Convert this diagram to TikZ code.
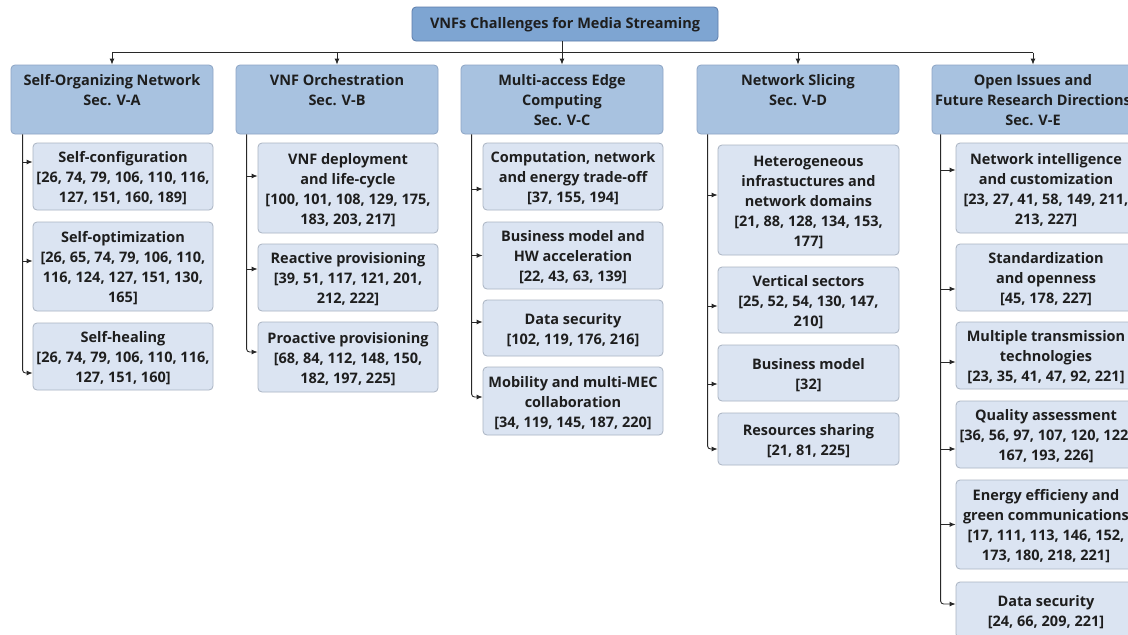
\documentclass[tikz,border=0pt]{standalone}
\usepackage{fontspec}
\setmainfont{Open Sans}
\usetikzlibrary{arrows.meta,calc}
\definecolor{topfill}{RGB}{126,165,210}
\definecolor{topline}{RGB}{92,124,170}
\definecolor{headfill}{RGB}{168,194,224}
\definecolor{headline}{RGB}{140,164,196}
\definecolor{subfill}{RGB}{219,228,242}
\definecolor{subline}{RGB}{170,180,194}
\definecolor{txt}{RGB}{30,30,30}
\definecolor{conncol}{RGB}{40,40,40}
\newcommand\myfirst{\rule{0pt}{18pt}}
\begin{document}
\begin{tikzpicture}[x=1pt,y=-1pt,
  every node/.style={font=\fontsize{14.5}{20}\selectfont\bfseries, text=txt, align=center, inner sep=0pt,
    execute at end node=\strut},
  topbox/.style={fill=topfill, draw=topline, line width=0.8pt, rounded corners=4pt, minimum width=306pt, minimum height=34pt,
    execute at begin node=\strut},
  headbox/.style={fill=headfill, draw=headline, line width=0.8pt, rounded corners=4pt, minimum width=202pt, minimum height=69pt},
  subbox/.style={fill=subfill, draw=subline, line width=0.8pt, rounded corners=4pt, minimum width=180pt},
  conn/.style={draw=conncol, line width=0.9pt},
  arr/.style={conn, -{Latex[length=6pt,width=5pt]}}
]
\useasboundingbox (0,0) rectangle (1128,635);
\clip (0,0) rectangle (1128,635);
\fill[white] (0,0) rectangle (1128,635);

% top
\node[topbox] (top) at (565,24) {VNFs Challenges for Media Streaming};

% headers
\node[headbox] (h1) at (112,99.5) {\myfirst Self-Organizing Network\\Sec. V-A\\{}};
\node[headbox] (h2) at (337,99.5) {\myfirst VNF Orchestration\\Sec. V-B\\{}};
\node[headbox] (h3) at (562,99.5) {\myfirst Multi-access Edge\\Computing\\Sec. V-C};
\node[headbox] (h4) at (798,99.5) {\myfirst Network Slicing\\Sec. V-D\\{}};
\node[headbox] (h5) at (1033,99.5) {\myfirst Open Issues and\\Future Research Directions\\Sec. V-E};

% column 1
\node[subbox, minimum height=67pt] (c11) at (123,176.5) {\myfirst Self-configuration\\{}[26, 74, 79, 106, 110, 116,\\127, 151, 160, 189]};
\node[subbox, minimum height=89pt] (c12) at (123,266.5) {\myfirst Self-optimization\\{}[26, 65, 74, 79, 106, 110,\\116, 124, 127, 151, 130,\\165]};
\node[subbox, minimum height=67pt] (c13) at (123,356.5) {\myfirst Self-healing\\{}[26, 74, 79, 106, 110, 116,\\127, 151, 160]};

% column 2
\node[subbox, minimum height=90pt] (c21) at (348,188) {\myfirst VNF deployment\\and life-cycle\\{}[100, 101, 108, 129, 175,\\183, 203, 217]};
\node[subbox, minimum height=67pt] (c22) at (348,277.5) {\myfirst Reactive provisioning\\{}[39, 51, 117, 121, 201,\\212, 222]};
\node[subbox, minimum height=70pt] (c23) at (348,357) {\myfirst Proactive provisioning\\{}[68, 84, 112, 148, 150,\\182, 197, 225]};

% column 3
\node[subbox, minimum height=67pt] (c31) at (573,176.5) {\myfirst Computation, network\\and energy trade-off\\{}[37, 155, 194]};
\node[subbox, minimum height=67pt] (c32) at (573,255.5) {\myfirst Business model and\\HW acceleration\\{}[22, 43, 63, 139]};
\node[subbox, minimum height=56pt] (c33) at (573,328) {\myfirst Data security\\{}[102, 119, 176, 216]};
\node[subbox, minimum height=68pt] (c34) at (573,401) {\myfirst Mobility and multi-MEC\\collaboration\\{}[34, 119, 145, 187, 220]};

% column 4
\node[subbox, minimum width=181pt, minimum height=110pt] (c41) at (808.5,200) {\myfirst Heterogeneous\\infrastuctures and\\network domains\\{}[21, 88, 128, 134, 153,\\177]};
\node[subbox, minimum width=181pt, minimum height=66pt] (c42) at (808.5,300) {\myfirst Vertical sectors\\{}[25, 52, 54, 130, 147,\\210]};
\node[subbox, minimum width=181pt, minimum height=56pt] (c43) at (808.5,373) {\myfirst Business model\\{}[32]};
\node[subbox, minimum width=181pt, minimum height=52pt] (c44) at (808.5,439) {\myfirst Resources sharing\\{}[21, 81, 225]};

% column 5
\node[subbox, minimum height=90pt] (c51) at (1046,188) {\myfirst Network intelligence\\and customization\\{}[23, 27, 41, 58, 149, 211,\\213, 227]};
\node[subbox, minimum height=67pt] (c52) at (1046,277.5) {\myfirst Standardization\\and openness\\{}[45, 178, 227]};
\node[subbox, minimum height=67pt] (c53) at (1046,355.5) {\myfirst Multiple transmission\\technologies\\{}[23, 35, 41, 47, 92, 221]};
\node[subbox, minimum height=67pt] (c54) at (1046,434.5) {\myfirst Quality assessment\\{}[36, 56, 97, 107, 120, 122,\\167, 193, 226]};
\node[subbox, minimum height=89pt] (c55) at (1046,524.5) {\myfirst Energy efficieny and\\green communications\\{}[17, 111, 113, 146, 152,\\173, 180, 218, 221]};
\node[subbox, minimum height=56pt] (c56) at (1046,610) {\myfirst Data security\\{}[24, 66, 209, 221]};

% top connectors
\coordinate (bus) at ([yshift=12pt]h3.north);
\draw[conn] (h1.north |- bus) -- (h5.north |- bus);
\draw[arr] (top.south -| h3.north) -- (h3.north);
\foreach \h in {h1,h2,h4,h5}{\draw[arr] (\h.north |- bus) -- (\h.north);}

% trunks
\coordinate (t1) at ([xshift=12pt]h1.south west);
\coordinate (t2) at ([xshift=11pt]h2.south west);
\coordinate (t3) at ([xshift=11pt]h3.south west);
\coordinate (t4) at ([xshift=11pt]h4.south west);
\coordinate (t5) at ([xshift=9pt]h5.south west);

\coordinate (e11) at ([yshift=14.5pt]c11.west);
\coordinate (e12) at ([yshift=5.5pt]c12.west);
\coordinate (e13) at ([yshift=-16.5pt]c13.west);
\coordinate (e21) at ([yshift=12pt]c21.west);
\coordinate (e22) at ([yshift=8.5pt]c22.west);
\coordinate (e23) at ([yshift=5pt]c23.west);
\coordinate (e31) at ([yshift=-12.5pt]c31.west);
\coordinate (e32) at ([yshift=0pt]c32.west);
\coordinate (e33) at ([yshift=6pt]c33.west);
\coordinate (e34) at ([yshift=4pt]c34.west);
\coordinate (e41) at ([yshift=5pt]c41.west);
\coordinate (e42) at ([yshift=-6pt]c42.west);
\coordinate (e43) at ([yshift=-11pt]c43.west);
\coordinate (e44) at ([yshift=-10pt]c44.west);
\coordinate (e51) at ([yshift=18pt]c51.west);
\coordinate (e52) at ([yshift=-11.5pt]c52.west);
\coordinate (e53) at ([yshift=-6.5pt]c53.west);
\coordinate (e54) at ([yshift=-14.5pt]c54.west);
\coordinate (e55) at ([yshift=0pt]c55.west);
\coordinate (e56) at ([yshift=6pt]c56.west);

\draw[arr, rounded corners=3pt] (t1) |- (e13);
\draw[arr, rounded corners=3pt] (t2) |- (e23);
\draw[arr, rounded corners=3pt] (t3) |- (e34);
\draw[arr, rounded corners=3pt] (t4) |- (e44);
\draw[arr, rounded corners=3pt] (t5) |- (e56);
\foreach \e/\t in {e11/t1,e12/t1,e21/t2,e22/t2,e31/t3,e32/t3,e33/t3,e41/t4,e42/t4,e43/t4,e51/t5,e52/t5,e53/t5,e54/t5,e55/t5}{
  \draw[arr] (\t |- \e) -- (\e);
}
\end{tikzpicture}
\end{document}
